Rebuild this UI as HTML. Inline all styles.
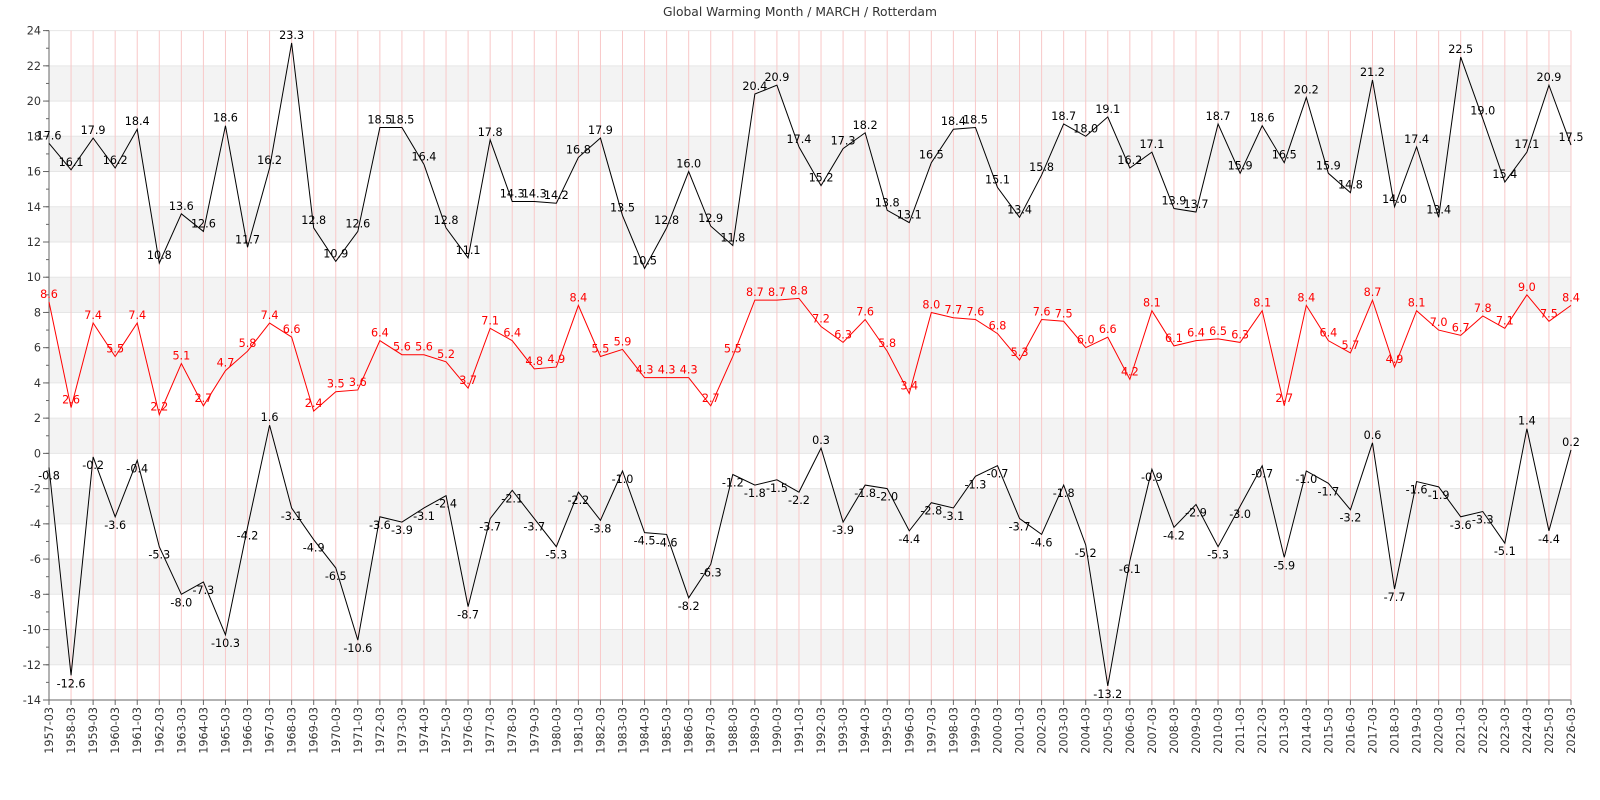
<!DOCTYPE html>
<html><head><meta charset="utf-8"><style>
body{margin:0;background:#fff;}
svg{display:block;font-family:"DejaVu Sans","Liberation Sans",sans-serif;}
</style></head><body>
<svg id="chart" width="1600" height="800" xmlns="http://www.w3.org/2000/svg">
<text x="800" y="16" text-anchor="middle" font-size="12.3" fill="#333">Global Warming Month / MARCH / Rotterdam</text>
<g id="bands"></g><g id="grid"></g><g id="axes"></g><g id="series"></g><g id="labels"></g>
</svg>
<script>
const years = [];
for (let y = 1957; y <= 2026; y++) years.push(y + '-03');
const maxVals = [17.6,16.1,17.9,16.2,18.4,10.8,13.6,12.6,18.6,11.7,16.2,23.3,12.8,10.9,12.6,18.5,18.5,16.4,12.8,11.1,17.8,14.3,14.3,14.2,16.8,17.9,13.5,10.5,12.8,16.0,12.9,11.8,20.4,20.9,17.4,15.2,17.3,18.2,13.8,13.1,16.5,18.4,18.5,15.1,13.4,15.8,18.7,18.0,19.1,16.2,17.1,13.9,13.7,18.7,15.9,18.6,16.5,20.2,15.9,14.8,21.2,14.0,17.4,13.4,22.5,19.0,15.4,17.1,20.9,17.5];
const meanVals = [8.6,2.6,7.4,5.5,7.4,2.2,5.1,2.7,4.7,5.8,7.4,6.6,2.4,3.5,3.6,6.4,5.6,5.6,5.2,3.7,7.1,6.4,4.8,4.9,8.4,5.5,5.9,4.3,4.3,4.3,2.7,5.5,8.7,8.7,8.8,7.2,6.3,7.6,5.8,3.4,8.0,7.7,7.6,6.8,5.3,7.6,7.5,6.0,6.6,4.2,8.1,6.1,6.4,6.5,6.3,8.1,2.7,8.4,6.4,5.7,8.7,4.9,8.1,7.0,6.7,7.8,7.1,9.0,7.5,8.4];
const minVals = [-0.8,-12.6,-0.2,-3.6,-0.4,-5.3,-8.0,-7.3,-10.3,-4.2,1.6,-3.1,-4.9,-6.5,-10.6,-3.6,-3.9,-3.1,-2.4,-8.7,-3.7,-2.1,-3.7,-5.3,-2.2,-3.8,-1.0,-4.5,-4.6,-8.2,-6.3,-1.2,-1.8,-1.5,-2.2,0.3,-3.9,-1.8,-2.0,-4.4,-2.8,-3.1,-1.3,-0.7,-3.7,-4.6,-1.8,-5.2,-13.2,-6.1,-0.9,-4.2,-2.9,-5.3,-3.0,-0.7,-5.9,-1.0,-1.7,-3.2,0.6,-7.7,-1.6,-1.9,-3.6,-3.3,-5.1,1.4,-4.4,0.2];
const yTicks = [24,22,20,18,16,14,12,10,8,6,4,2,0,-2,-4,-6,-8,-10,-12,-14];

const X0=49, X1=1571, YT=30.6, YB=700, VMAX=24, VMIN=-14;
const FS=11.2;
const xs = i => X0 + i*(X1-X0)/(years.length-1);
const ys = v => YT + (VMAX-v)*(YB-YT)/(VMAX-VMIN);
const NS='http://www.w3.org/2000/svg';
function mk(tag, attrs, parent, text){const e=document.createElementNS(NS,tag);for(const k in attrs)e.setAttribute(k,attrs[k]);if(text!==undefined)e.textContent=text;document.getElementById(parent).appendChild(e);return e;}

for (let v=-12; v<24; v+=4){
  const r=mk('rect',{x:X0,y:ys(v+2),width:X1-X0,height:ys(v)-ys(v+2),fill:'#f3f3f3'},'bands');
  
  
}
yTicks.forEach(v=>{
  const l=mk('line',{x1:X0,x2:X1,y1:ys(v),y2:ys(v),stroke:'#e6e6e6','stroke-width':1},'grid');
  
  
  mk('line',{x1:X0-6,x2:X0,y1:ys(v),y2:ys(v),stroke:'#666'},'axes');
  const t=mk('text',{x:X0-8,y:ys(v)+4,'text-anchor':'end','font-size':FS,fill:'#333'},'axes',String(v));
  
  
});
for(let v=VMIN; v<=VMAX; v++) mk('line',{x1:X0-3,x2:X0,y1:ys(v),y2:ys(v),stroke:'#666'},'axes');
years.forEach((yr,i)=>{
  const x=xs(i);
  const l=mk('line',{x1:x,x2:x,y1:YT,y2:YB,stroke:'#f8c8c8','stroke-width':1},'grid');
  
  
  mk('line',{x1:x,x2:x,y1:YB,y2:YB+5,stroke:'#666'},'axes');
  const t=mk('text',{x:0,y:0,'text-anchor':'end','font-size':FS,fill:'#333',transform:`translate(${x+4},${YB+7}) rotate(-90)`},'axes',yr);
  
  
});
const ax=mk('line',{x1:X0,x2:X0,y1:YT,y2:YB,stroke:'#666'},'axes');


const bx=mk('line',{x1:X0,x2:X1,y1:YB,y2:YB,stroke:'#666'},'axes');



function series(vals,color,name,dyFn){
  const p=mk('polyline',{points:vals.map((v,i)=>xs(i)+','+ys(v)).join(' '),fill:'none',stroke:color,'stroke-width':1},'series');
  
  
  vals.forEach((v,i)=>{
    const t=mk('text',{x:xs(i),y:ys(v)+dyFn(v),'text-anchor':'middle','font-size':FS,fill:color},'labels',v.toFixed(1));
    
    
  });
}
series(maxVals,'#000','max',v=>-4);
series(meanVals,'#f00','mean',v=>-4);
series(minVals,'#000','min',v=>v>=0?-4:12);
</script>
</body></html>
